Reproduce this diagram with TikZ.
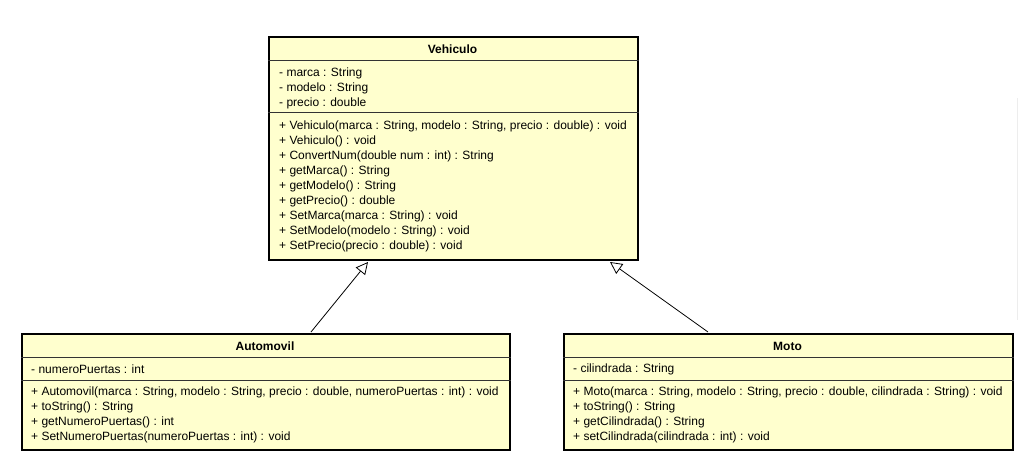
\documentclass[tikz,border=0pt]{standalone}
\usepackage{fontspec}
\setmainfont{Liberation Sans}
\usetikzlibrary{arrows.meta}
\definecolor{umlfill}{RGB}{255,255,206}
\begin{document}
\begin{tikzpicture}[x=1pt,y=-1pt,
  classbox/.style={draw=black, line width=2pt, fill=umlfill, rectangle, inner sep=0pt, anchor=north west},
  sepline/.style={draw=black!80, line width=0.9pt},
  member/.style={anchor=west, inner sep=0pt, yshift=-1pt, font=\fontsize{12}{15}\selectfont},
  classtitle/.style={inner sep=0pt, yshift=-1pt, font=\bfseries\fontsize{12}{15}\selectfont},
  inherit/.style={draw=black, line width=0.8pt, -{Triangle[open, length=12pt, width=12pt, fill=white]}}]
\useasboundingbox (0,0) rectangle (1019,472);
\fill[white] (0,0) rectangle (1019,472);
\draw[black!7, line width=1pt] (1017.5,98) -- (1017.5,320);

% Vehiculo
\node[classbox, minimum width=369pt, minimum height=223pt] (veh) at (268,36) {};
\draw[sepline] (veh.west |- 0,60) -- (veh.east |- 0,60);
\draw[sepline] (veh.west |- 0,112) -- (veh.east |- 0,112);
\node[classtitle] (vehT) at (452.5,48) {Vehiculo};
\node[member] (vA1) at (279,72) {- marca : String};
\node[member] (vA2) at (279,87) {- modelo : String};
\node[member] (vA3) at (279,102) {- precio : double};
\node[member] (vM1) at (279,125) {+ Vehiculo(marca : String, modelo : String, precio : double) : void};
\node[member] (vM2) at (279,140) {+ Vehiculo() : void};
\node[member] (vM3) at (279,155) {+ ConvertNum(double num : int) : String};
\node[member] (vM4) at (279,170) {+ getMarca() : String};
\node[member] (vM5) at (279,185) {+ getModelo() : String};
\node[member] (vM6) at (279,200) {+ getPrecio() : double};
\node[member] (vM7) at (279,215) {+ SetMarca(marca : String) : void};
\node[member] (vM8) at (279,230) {+ SetModelo(modelo : String) : void};
\node[member] (vM9) at (279,245) {+ SetPrecio(precio : double) : void};

% Automovil
\node[classbox, minimum width=488pt, minimum height=116pt] (auto) at (21,333) {};
\draw[sepline] (auto.west |- 0,357) -- (auto.east |- 0,357);
\draw[sepline] (auto.west |- 0,380) -- (auto.east |- 0,380);
\node[classtitle] (autoT) at (265,345) {Automovil};
\node[member] (aA1) at (31,368) {- numeroPuertas : int};
\node[member] (aM1) at (31,391) {+ Automovil(marca : String, modelo : String, precio : double, numeroPuertas : int) : void};
\node[member] (aM2) at (31,406) {+ toString() : String};
\node[member] (aM3) at (31,421) {+ getNumeroPuertas() : int};
\node[member] (aM4) at (31,436) {+ SetNumeroPuertas(numeroPuertas : int) : void};

% Moto
\node[classbox, minimum width=449pt, minimum height=116pt] (moto) at (563,333) {};
\draw[sepline] (moto.west |- 0,357) -- (moto.east |- 0,357);
\draw[sepline] (moto.west |- 0,380) -- (moto.east |- 0,380);
\node[classtitle] (motoT) at (787.5,345) {Moto};
\node[member] (mA1) at (573,368) {- cilindrada : String};
\node[member] (mM1) at (573,391) {+ Moto(marca : String, modelo : String, precio : double, cilindrada : String) : void};
\node[member] (mM2) at (573,406) {+ toString() : String};
\node[member] (mM3) at (573,421) {+ getCilindrada() : String};
\node[member] (mM4) at (573,436) {+ setCilindrada(cilindrada : int) : void};

% inheritance
\coordinate (autoTop) at ([xshift=45pt,yshift=1pt]auto.north);
\coordinate (vehTipA) at ([xshift=-85.5pt,yshift=-1pt]veh.south);
\coordinate (motoTop) at ([xshift=-80.5pt,yshift=1pt]moto.north);
\coordinate (vehTipM) at ([xshift=156.5pt,yshift=-1pt]veh.south);
\draw[inherit] (autoTop) -- (vehTipA);
\draw[inherit] (motoTop) -- (vehTipM);
\end{tikzpicture}
\end{document}
